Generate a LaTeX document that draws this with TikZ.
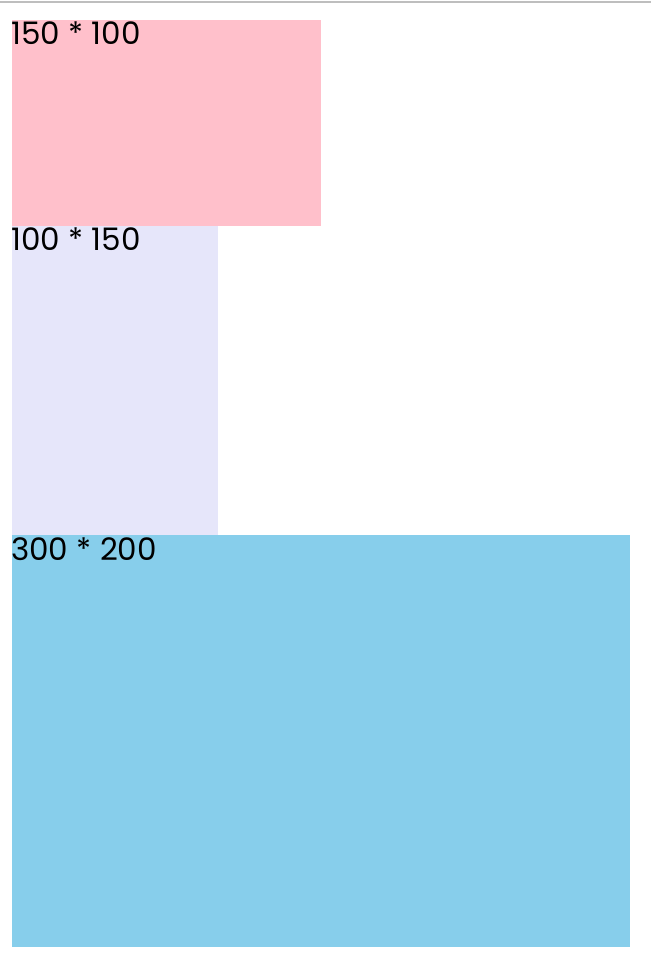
\documentclass[tikz,border=0pt]{standalone}
\usepackage{fontspec}
\setmainfont{Poppins}
\definecolor{boxpink}{RGB}{255,192,203}
\definecolor{boxlavender}{RGB}{230,230,250}
\definecolor{boxsky}{RGB}{135,206,235}
\definecolor{rulegray}{RGB}{190,190,190}
\usetikzlibrary{positioning}

\begin{document}
\begin{tikzpicture}[x=1pt, y=-1pt,
  sizelabel/.style={anchor=north west, inner sep=0pt, font=\fontsize{31}{36}\selectfont, text=black}]
  \useasboundingbox (0,0) rectangle (651,972);
  % top rule
  \draw[rulegray, line width=1.5pt] (0,2) -- (651,2);

  % first block
  \fill[boxpink] (12,20) rectangle (321,226);
  \node[sizelabel] (pinklabel) at (11,22) {150 * 100};

  % second block
  \fill[boxlavender] (12,226) rectangle (218,535);
  \node[sizelabel] (lavenderlabel) at (11,228) {100 * 150};

  % third block
  \fill[boxsky] (12,535) rectangle (630,947);
  \node[sizelabel] (skylabel) at (11,537) {300 * 200};
\end{tikzpicture}
\end{document}
